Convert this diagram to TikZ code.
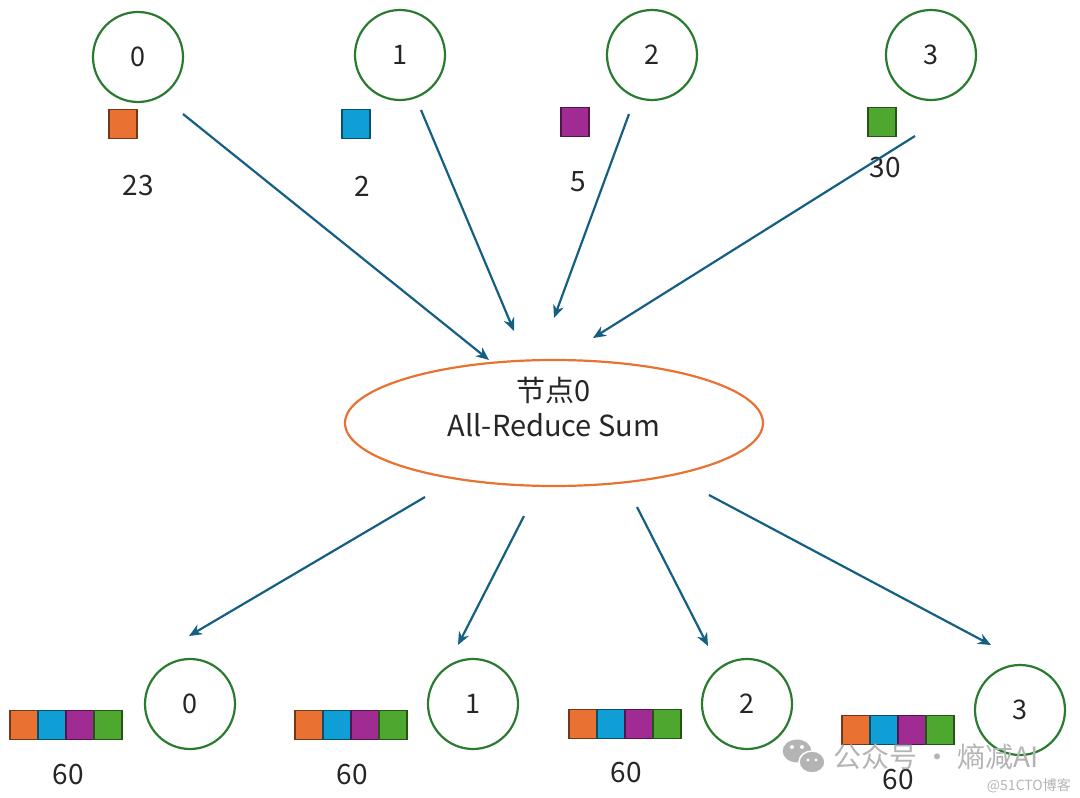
\documentclass[tikz,border=0pt]{standalone}
\usepackage{fontspec}
\setmainfont{Noto Sans CJK SC}
\usetikzlibrary{arrows.meta,shapes.geometric,positioning}

\definecolor{rkgreen}{HTML}{2A7B30}
\definecolor{flowblue}{HTML}{156082}
\definecolor{cOrange}{HTML}{E97132}
\definecolor{cBlue}{HTML}{0F9ED5}
\definecolor{cPurple}{HTML}{A02B93}
\definecolor{cGreen}{HTML}{4EA72E}
\definecolor{wmgray}{HTML}{B4B4B4}

\begin{document}
\begin{tikzpicture}[x=1pt,y=-1pt,
  rank/.style={circle, draw=rkgreen, line width=2.2pt, minimum size=90pt, inner sep=0pt, font=\fontsize{27}{30}\selectfont, text=black!85},
  blk/.style={draw=#1!50!black, fill=#1, line width=1.6pt, minimum width=28pt, minimum height=29pt, inner sep=0pt, outer sep=0pt},
  val/.style={font=\fontsize{28}{30}\selectfont, text=black!85},
  flow/.style={draw=flowblue, line width=2.2pt, -{Stealth[length=13pt,width=11pt]}}]
 \useasboundingbox (0,0) rectangle (1080,798);

 % ranks before the reduce
 \node[rank] (r0) at (138,57) {0};
 \node[rank] (r1) at (400,55) {1};
 \node[rank] (r2) at (652,55) {2};
 \node[rank] (r3) at (931,55) {3};

 \node[blk=cOrange] (d0) at (123,124) {};
 \node[blk=cBlue]   (d1) at (356,124) {};
 \node[blk=cPurple] (d2) at (575,122) {};
 \node[blk=cGreen]  (d3) at (882,122) {};

 \node[val] (v0) at (138,186) {23};
 \node[val] (v1) at (362,186) {2};
 \node[val] (v2) at (578,182) {5};
 \node[val] (v3) at (885,168) {30};

 % the reducing node
 \node[ellipse, draw=cOrange, line width=2.2pt, minimum width=418pt, minimum height=126pt] (sum) at (554,423) {};
 \node[align=center, font=\fontsize{29}{35}\selectfont, text=black!85] (sumlbl) at ([yshift=16pt]sum.center) {节点0\\All-Reduce Sum};

 \coordinate (s0) at (183,114); \coordinate (e0) at (489,360);
 \coordinate (s1) at (421,110); \coordinate (e1) at (514,331);
 \coordinate (s2) at (629,114); \coordinate (e2) at (554,318);
 \coordinate (s3) at (915,136); \coordinate (e3) at (593,338);
 \draw[flow] (s0) -- (e0);
 \draw[flow] (s1) -- (e1);
 \draw[flow] (s2) -- (e2);
 \draw[flow] (s3) -- (e3);

 % ranks after the reduce
 \node[rank] (q0) at (190,704) {0};
 \node[rank] (q1) at (473,704) {1};
 \node[rank] (q2) at (747,704) {2};
 \node[rank] (q3) at (1020,710) {3};

 \foreach \i/\x/\y in {0/24/725, 1/309/725, 2/583/724, 3/856/730} {
   \node[blk=cOrange] (a\i o) at (\x,\y) {};
   \node[blk=cBlue, right=0pt of a\i o] (a\i b) {};
   \node[blk=cPurple, right=0pt of a\i b] (a\i p) {};
   \node[blk=cGreen, right=0pt of a\i p] (a\i g) {};
 }

 \node[val] (w0) at (68,775) {60};
 \node[val] (w1) at (352,775) {60};
 \node[val] (w2) at (626,773) {60};
 \node[val] (w3) at (898,780) {60};

 \coordinate (f0) at (425,497); \coordinate (g0) at (189,636);
 \coordinate (f1) at (524,516); \coordinate (g1) at (458,645);
 \coordinate (f2) at (637,507); \coordinate (g2) at (708,646);
 \coordinate (f3) at (709,495); \coordinate (g3) at (991,645);
 \draw[flow] (f0) -- (g0);
 \draw[flow] (f1) -- (g1);
 \draw[flow] (f2) -- (g2);
 \draw[flow] (f3) -- (g3);

 % watermark
 \fill[wmgray, draw=white, line width=1pt] (797,751) ellipse (15 and 12);
 \fill[wmgray, draw=white, line width=1.5pt] (812,762) ellipse (13 and 11);
 \fill[white] (792,747) circle (2) (802,747) circle (2) (808,760) circle (1.6) (816,760) circle (1.6);
 \node[text=wmgray, font=\fontsize{28}{30}\selectfont, anchor=west, inner sep=0pt] (wm) at (833,757) {公众号 · 熵减AI};
 \node[text=wmgray, font=\fontsize{14}{16}\selectfont, anchor=east, inner sep=0pt] (blog) at (1071,786) {@51CTO博客};
\end{tikzpicture}
\end{document}
